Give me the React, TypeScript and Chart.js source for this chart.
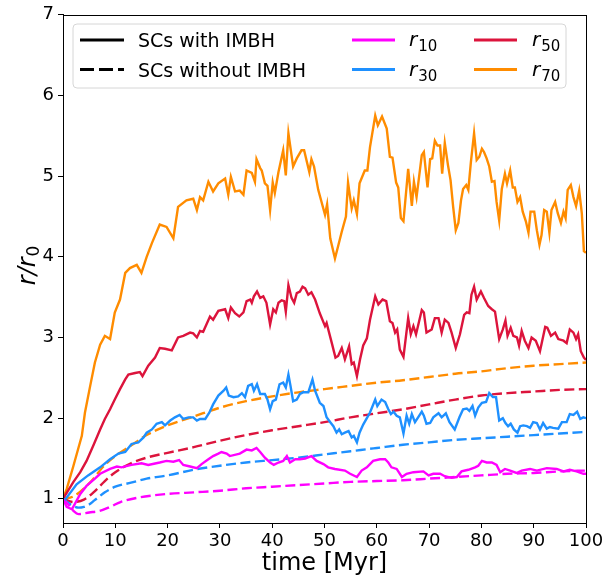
import React, { useEffect, useRef } from "react";
import { Chart, registerables } from "chart.js";

Chart.register(...registerables);

// ---- data (time in Myr, r/r0) ----
const xTicks = [0, 10, 20, 30, 40, 50, 60, 70, 80, 90, 100];
const yTicks = [1, 2, 3, 4, 5, 6, 7];

// with IMBH (solid)
const tR10 = [0, 0.7, 1.7, 2.3, 3.3, 4.5, 6.1, 7.1, 9.0, 10.3, 11.2, 13.1, 15.0, 16.3, 18.5, 19.8, 21.1, 22.2, 23.0, 24.3, 25.6, 26.5, 27.8, 28.7, 29.7, 30.3, 31.3, 31.9, 33.8, 35.1, 36.1, 37.0, 37.7, 38.6, 39.6, 40.3, 41.2, 42.1, 42.8, 43.4, 44.4, 45.3, 46.3, 47.5, 48.5, 49.8, 50.7, 52.0, 53.9, 54.9, 56.2, 57.1, 58.1, 59.3, 60.6, 61.6, 62.2, 62.8, 63.8, 64.8, 65.7, 67.0, 68.9, 69.9, 70.8, 72.1, 73.0, 74.3, 75.3, 76.2, 77.5, 78.8, 79.4, 80.1, 81.0, 82.0, 82.9, 83.6, 84.5, 85.5, 86.7, 87.7, 89.3, 90.6, 92.5, 94.4, 95.7, 96.9, 98.2, 99.5, 100];
const r10With = [1.0, 0.9, 0.87, 0.94, 1.06, 1.16, 1.25, 1.31, 1.37, 1.4, 1.39, 1.42, 1.44, 1.42, 1.45, 1.47, 1.46, 1.48, 1.42, 1.4, 1.38, 1.43, 1.49, 1.53, 1.56, 1.58, 1.56, 1.53, 1.56, 1.61, 1.6, 1.63, 1.58, 1.51, 1.45, 1.42, 1.45, 1.47, 1.53, 1.45, 1.49, 1.49, 1.5, 1.53, 1.47, 1.43, 1.39, 1.37, 1.35, 1.31, 1.27, 1.35, 1.39, 1.47, 1.49, 1.49, 1.45, 1.39, 1.37, 1.27, 1.31, 1.33, 1.34, 1.29, 1.31, 1.31, 1.28, 1.26, 1.27, 1.34, 1.36, 1.39, 1.41, 1.47, 1.45, 1.45, 1.42, 1.33, 1.37, 1.35, 1.32, 1.35, 1.37, 1.35, 1.38, 1.37, 1.34, 1.36, 1.34, 1.31, 1.31];

const tR30 = [0, 0.4, 2.6, 4.8, 7.1, 9.0, 10.6, 11.9, 13.1, 14.4, 15.4, 16.0, 17.0, 17.9, 18.9, 19.5, 20.5, 21.4, 22.3, 23.0, 24.0, 24.9, 25.6, 26.2, 27.2, 28.0, 28.7, 29.7, 30.7, 31.2, 31.7, 32.6, 33.5, 34.2, 34.8, 35.4, 36.1, 36.5, 37.1, 37.7, 38.6, 39.1, 39.6, 40.1, 40.7, 41.4, 42.1, 42.6, 43.1, 43.5, 44.0, 44.7, 45.3, 45.9, 46.9, 47.7, 48.2, 49.1, 49.8, 50.4, 51.1, 51.7, 52.3, 52.8, 53.3, 53.9, 54.6, 55.2, 55.6, 56.2, 56.7, 57.4, 58.1, 58.7, 59.7, 60.1, 60.9, 61.6, 62.2, 62.7, 63.2, 63.8, 64.4, 65.1, 65.7, 66.2, 66.7, 67.3, 67.9, 68.6, 69.0, 69.5, 70.2, 70.8, 71.8, 72.4, 73.2, 73.9, 74.9, 75.8, 76.5, 77.2, 77.7, 78.3, 78.8, 79.4, 80.1, 80.9, 81.5, 82.2, 82.8, 83.4, 84.1, 84.6, 85.1, 85.6, 86.2, 86.9, 87.4, 88.0, 88.7, 89.3, 89.9, 90.6, 91.2, 91.8, 92.5, 93.1, 93.7, 94.7, 95.4, 96.3, 96.9, 97.6, 98.3, 98.9, 99.5, 100];
const r30With = [1.0, 0.99, 1.18, 1.29, 1.39, 1.49, 1.56, 1.58, 1.68, 1.7, 1.76, 1.82, 1.86, 1.93, 1.95, 1.91, 1.97, 2.01, 2.04, 1.99, 2.01, 2.01, 1.97, 1.99, 1.99, 2.07, 2.17, 2.28, 2.34, 2.38, 2.28, 2.26, 2.27, 2.31, 2.26, 2.4, 2.42, 2.34, 2.42, 2.3, 2.3, 2.23, 2.11, 2.21, 2.23, 2.42, 2.44, 2.38, 2.54, 2.4, 2.21, 2.23, 2.3, 2.32, 2.32, 2.48, 2.34, 2.19, 2.15, 2.01, 1.95, 1.9, 1.82, 1.86, 1.8, 1.82, 1.84, 1.76, 1.78, 1.7, 1.82, 1.92, 2.0, 2.07, 2.23, 2.15, 2.23, 2.2, 2.11, 2.05, 2.08, 2.03, 2.01, 1.81, 2.03, 1.93, 2.05, 1.95, 2.01, 2.08, 2.03, 1.93, 1.94, 2.01, 2.06, 2.01, 2.06, 1.95, 1.86, 2.01, 2.11, 2.12, 2.09, 2.15, 2.03, 2.13, 2.19, 2.2, 2.31, 2.26, 2.26, 1.97, 2.0, 1.94, 1.9, 1.93, 1.86, 1.82, 1.9, 1.91, 1.9, 1.88, 1.95, 1.94, 1.86, 1.94, 1.87, 1.89, 1.88, 1.87, 1.95, 1.95, 2.05, 2.04, 2.08, 1.99, 2.01, 2.0];

const tR50 = [0, 2.0, 3.3, 4.5, 5.8, 7.1, 8.0, 9.0, 9.9, 10.9, 11.9, 12.5, 13.8, 14.7, 15.2, 16.3, 17.6, 18.5, 19.5, 20.8, 22.0, 23.0, 24.3, 24.9, 25.6, 26.2, 26.8, 28.1, 28.7, 29.7, 31.0, 31.6, 32.1, 32.9, 33.7, 34.5, 35.1, 35.8, 36.1, 36.5, 37.1, 37.7, 38.3, 38.9, 39.6, 40.2, 40.7, 41.2, 41.8, 42.3, 42.6, 43.1, 43.7, 44.2, 44.7, 45.3, 45.8, 46.3, 46.9, 47.5, 48.2, 49.1, 50.1, 50.4, 51.4, 52.1, 52.6, 53.3, 53.9, 54.7, 55.2, 55.6, 56.2, 56.8, 57.4, 58.1, 58.7, 59.7, 60.3, 61.1, 61.8, 62.5, 63.0, 63.5, 63.9, 64.4, 65.1, 66.0, 66.5, 67.0, 67.5, 68.6, 69.0, 69.5, 70.5, 71.1, 71.8, 72.4, 73.0, 73.7, 74.3, 75.1, 75.9, 76.7, 77.2, 77.7, 78.1, 78.6, 79.1, 79.9, 80.5, 81.3, 82.0, 82.6, 83.4, 84.1, 84.6, 85.0, 85.6, 86.1, 86.8, 87.2, 87.7, 88.3, 89.0, 89.6, 90.4, 91.2, 92.2, 92.6, 93.3, 94.1, 94.7, 95.7, 96.3, 96.9, 97.6, 98.1, 98.5, 99.0, 99.6, 100];
const r50With = [1.0, 1.21, 1.33, 1.47, 1.66, 1.86, 1.99, 2.11, 2.23, 2.36, 2.48, 2.54, 2.56, 2.57, 2.52, 2.65, 2.75, 2.87, 2.86, 2.84, 3.0, 3.02, 3.06, 3.05, 3.0, 3.08, 3.07, 3.26, 3.22, 3.33, 3.35, 3.24, 3.37, 3.3, 3.26, 3.31, 3.45, 3.47, 3.43, 3.51, 3.57, 3.49, 3.51, 3.43, 3.16, 3.35, 3.31, 3.43, 3.46, 3.45, 3.32, 3.65, 3.49, 3.43, 3.55, 3.57, 3.63, 3.61, 3.53, 3.56, 3.47, 3.3, 3.14, 3.18, 2.93, 2.75, 2.77, 2.87, 2.73, 2.89, 2.67, 2.69, 2.52, 2.73, 2.9, 2.99, 3.22, 3.51, 3.41, 3.47, 3.45, 3.2, 3.18, 3.06, 3.1, 2.85, 2.76, 3.24, 3.04, 3.14, 3.04, 3.34, 3.31, 3.06, 3.1, 3.24, 3.24, 3.06, 3.22, 3.18, 3.06, 2.87, 3.04, 3.28, 3.31, 3.3, 3.53, 3.63, 3.47, 3.57, 3.49, 3.39, 3.35, 3.32, 2.98, 3.1, 3.21, 3.02, 3.12, 3.02, 3.0, 2.9, 3.08, 2.96, 2.87, 3.0, 2.96, 2.83, 3.13, 3.12, 3.02, 3.06, 2.98, 2.96, 2.93, 3.1, 3.06, 2.98, 3.04, 2.83, 2.75, 2.72];

const tR70 = [0, 0.7, 2.0, 3.6, 4.2, 5.2, 6.1, 7.1, 8.0, 9.0, 9.9, 10.9, 11.9, 12.8, 14.1, 15.0, 16.0, 17.0, 18.5, 19.8, 21.1, 22.0, 23.6, 24.9, 25.6, 26.2, 26.8, 27.8, 28.7, 29.7, 31.0, 31.6, 32.1, 32.9, 33.8, 34.5, 35.1, 36.1, 36.7, 37.0, 37.7, 38.0, 38.6, 39.1, 39.6, 40.1, 40.5, 41.2, 42.1, 42.6, 43.1, 44.0, 44.7, 45.6, 46.1, 47.1, 47.5, 48.0, 48.8, 50.1, 50.5, 51.1, 52.0, 52.6, 53.3, 54.1, 54.5, 55.2, 55.6, 56.2, 56.7, 57.7, 58.2, 58.7, 59.7, 60.2, 61.0, 61.9, 62.5, 63.0, 63.7, 64.1, 64.6, 65.1, 66.0, 66.7, 67.1, 67.6, 68.6, 69.0, 69.7, 70.2, 70.6, 71.1, 71.6, 72.1, 72.5, 73.0, 73.6, 74.1, 74.6, 75.1, 75.6, 76.1, 76.5, 77.1, 77.5, 78.0, 78.6, 79.1, 79.6, 80.1, 80.5, 81.0, 81.5, 82.0, 82.5, 82.9, 83.4, 83.9, 84.5, 84.9, 85.5, 86.0, 86.4, 86.9, 87.4, 87.9, 88.5, 89.0, 89.4, 90.1, 90.6, 91.1, 91.5, 92.0, 92.5, 93.0, 93.4, 94.1, 94.6, 95.2, 95.7, 96.1, 96.5, 97.1, 97.6, 98.1, 98.7, 99.2, 99.6, 100];
const r70With = [1.0, 1.12, 1.41, 1.78, 2.07, 2.4, 2.69, 2.91, 3.02, 2.98, 3.31, 3.47, 3.8, 3.86, 3.9, 3.8, 4.0, 4.17, 4.4, 4.37, 4.23, 4.62, 4.7, 4.72, 4.58, 4.74, 4.7, 4.93, 4.81, 4.91, 4.97, 4.77, 4.99, 4.81, 4.82, 4.77, 5.07, 5.04, 4.93, 5.21, 5.1, 5.07, 4.91, 4.88, 4.58, 4.92, 4.79, 5.05, 5.32, 5.01, 5.53, 5.12, 5.22, 5.32, 5.32, 5.05, 5.21, 5.12, 4.83, 4.52, 4.65, 4.23, 3.98, 4.13, 4.31, 4.5, 4.92, 4.6, 4.7, 4.53, 4.91, 5.07, 5.07, 5.36, 5.75, 5.63, 5.74, 5.59, 5.24, 5.23, 4.92, 4.86, 4.48, 4.44, 5.09, 4.63, 4.93, 4.74, 5.26, 5.3, 4.86, 5.21, 5.22, 5.44, 5.38, 5.38, 5.03, 5.41, 5.14, 4.95, 4.62, 4.33, 4.42, 4.7, 4.84, 4.89, 4.83, 5.18, 5.53, 5.2, 5.24, 5.34, 5.3, 5.22, 5.12, 4.93, 4.94, 4.68, 4.45, 4.84, 5.03, 4.91, 5.07, 4.86, 4.86, 4.68, 4.74, 4.56, 4.44, 4.3, 4.56, 4.56, 4.33, 4.15, 4.27, 4.58, 4.56, 4.3, 4.58, 4.68, 4.54, 4.42, 4.56, 4.48, 4.83, 4.89, 4.74, 4.63, 4.82, 4.54, 4.07, 4.05];

// without IMBH (dashed)
const tR10No = [0, 1, 2, 3, 5, 7, 9, 11, 14, 17, 20, 25, 30, 35, 40, 45, 50, 55, 60, 65, 70, 75, 80, 85, 90, 95, 100];
const r10Without = [1.0, 0.93, 0.85, 0.81, 0.83, 0.85, 0.9, 0.96, 1.01, 1.04, 1.06, 1.08, 1.1, 1.13, 1.15, 1.17, 1.19, 1.21, 1.22, 1.23, 1.25, 1.27, 1.29, 1.31, 1.32, 1.34, 1.35];
const tR30No = [0, 1, 2, 3, 4, 5, 6, 8, 10, 13, 16, 20, 25, 30, 35, 40, 45, 50, 55, 60, 65, 70, 75, 80, 85, 90, 95, 100];
const r30Without = [1.0, 0.95, 0.91, 0.89, 0.9, 0.93, 0.98, 1.08, 1.15, 1.2, 1.25, 1.29, 1.36, 1.41, 1.45, 1.48, 1.51, 1.55, 1.59, 1.63, 1.67, 1.7, 1.73, 1.75, 1.77, 1.79, 1.81, 1.83];
const tR50No = [0, 2, 4, 6, 8, 10, 13, 16, 20, 25, 30, 35, 40, 45, 50, 55, 60, 65, 70, 75, 80, 85, 90, 95, 100];
const r50Without = [1.0, 0.96, 0.99, 1.09, 1.22, 1.33, 1.44, 1.51, 1.57, 1.64, 1.72, 1.79, 1.85, 1.9, 1.95, 2.01, 2.06, 2.11, 2.17, 2.23, 2.28, 2.31, 2.33, 2.35, 2.36];
const tR70No = [0, 2, 5, 8, 10, 13, 16, 20, 25, 30, 35, 40, 45, 50, 55, 60, 65, 70, 75, 80, 85, 90, 95, 100];
const r70Without = [1.0, 1.03, 1.19, 1.42, 1.53, 1.66, 1.79, 1.91, 2.02, 2.13, 2.21, 2.27, 2.32, 2.36, 2.4, 2.44, 2.47, 2.51, 2.55, 2.58, 2.62, 2.65, 2.67, 2.69];

const C10 = "#ff00ff";
const C30 = "#1e90ff";
const C50 = "#dc143c";
const C70 = "#ff8c00";
const FONT = "'DejaVu Sans', sans-serif";

const pts = (t: number[], v: number[]) => t.map((x, i) => ({ x, y: v[i] }));

const framePlugin = {
  id: "frameAndText",
  afterDatasetsDraw(chart: any) {
    const { ctx, chartArea: a } = chart;
    ctx.save();
    // frame
    ctx.strokeStyle = "#000";
    ctx.lineWidth = 1;
    ctx.strokeRect(Math.round(a.left) + 0.5, Math.round(a.top) + 0.5, Math.round(a.right - a.left), Math.round(a.bottom - a.top));

    // legend box
    const bx = 73, by = 24, bw = 493, bh = 64, r = 4;
    ctx.beginPath();
    ctx.moveTo(bx + r, by);
    ctx.lineTo(bx + bw - r, by);
    ctx.quadraticCurveTo(bx + bw, by, bx + bw, by + r);
    ctx.lineTo(bx + bw, by + bh - r);
    ctx.quadraticCurveTo(bx + bw, by + bh, bx + bw - r, by + bh);
    ctx.lineTo(bx + r, by + bh);
    ctx.quadraticCurveTo(bx, by + bh, bx, by + bh - r);
    ctx.lineTo(bx, by + r);
    ctx.quadraticCurveTo(bx, by, bx + r, by);
    ctx.closePath();
    ctx.fillStyle = "rgba(255,255,255,0.8)";
    ctx.fill();
    ctx.strokeStyle = "#d6d6d6";
    ctx.stroke();

    const row1 = 40, row2 = 69.5;
    const line = (x1: number, x2: number, y: number, color: string, dash: number[]) => {
      ctx.beginPath();
      ctx.setLineDash(dash);
      ctx.strokeStyle = color;
      ctx.lineWidth = 3;
      ctx.moveTo(x1, y);
      ctx.lineTo(x2, y);
      ctx.stroke();
      ctx.setLineDash([]);
    };
    line(80, 124, row1, "#000", []);
    line(80, 124, row2, "#000", [14, 5]);
    ctx.fillStyle = "#000";
    ctx.textBaseline = "alphabetic";
    ctx.textAlign = "left";
    ctx.font = `19px ${FONT}`;
    ctx.fillText("SCs with IMBH", 138, row1 + 7);
    ctx.fillText("SCs without IMBH", 138, row2 + 7);

    const rlabel = (x: number, y: number, sub: string) => {
      ctx.font = `italic 20px ${FONT}`;
      ctx.fillText("r", x, y + 6);
      const w = ctx.measureText("r").width;
      ctx.font = `15px ${FONT}`;
      ctx.fillText(sub, x + w + 1, y + 11);
    };
    line(352, 395, row1, C10, []);
    line(352, 395, row2, C30, []);
    line(474, 517, row1, C50, []);
    line(474, 517, row2, C70, []);
    rlabel(409, row1, "10");
    rlabel(409, row2, "30");
    rlabel(532, row1, "50");
    rlabel(532, row2, "70");

    // x title
    ctx.font = `24px ${FONT}`;
    ctx.textAlign = "center";
    ctx.fillText("time [Myr]", (a.left + a.right) / 2, 570);

    // y title r/r0
    ctx.translate(35, (a.top + a.bottom) / 2 - 3);
    ctx.rotate(-Math.PI / 2);
    ctx.textAlign = "left";
    ctx.font = `italic 24px ${FONT}`;
    const main = "r/r";
    const w1 = ctx.measureText(main).width;
    ctx.font = `17px ${FONT}`;
    const w2 = ctx.measureText("0").width;
    const start = -(w1 + w2) / 2;
    ctx.font = `italic 24px ${FONT}`;
    ctx.fillText(main, start, 0);
    ctx.font = `17px ${FONT}`;
    ctx.fillText("0", start + w1 + 1, 4);
    ctx.restore();
  },
};

export default function App() {
  const ref = useRef<HTMLCanvasElement | null>(null);
  useEffect(() => {
    if (!ref.current) return;
    const solid = (label: string, t: number[], v: number[], c: string) => ({
      label, data: pts(t, v), borderColor: c, backgroundColor: c, borderWidth: 2.4,
      pointRadius: 0, tension: 0, fill: false,
    });
    const dashed = (label: string, t: number[], v: number[], c: string) => ({
      label, data: pts(t, v), borderColor: c, backgroundColor: c, borderWidth: 2.4,
      borderDash: [10, 4.5], pointRadius: 0, tension: 0.4, cubicInterpolationMode: "monotone", fill: false,
    });
    const chart = new Chart(ref.current, {
      type: "line",
      data: {
        datasets: [
          solid("r10 with IMBH", tR10, r10With, C10),
          solid("r30 with IMBH", tR30, r30With, C30),
          solid("r50 with IMBH", tR50, r50With, C50),
          solid("r70 with IMBH", tR70, r70With, C70),
          dashed("r10 without IMBH", tR10No, r10Without, C10),
          dashed("r30 without IMBH", tR30No, r30Without, C30),
          dashed("r50 without IMBH", tR50No, r50Without, C50),
          dashed("r70 without IMBH", tR70No, r70Without, C70),
        ] as any,
      },
      options: {
        animation: false,
        responsive: false,
        maintainAspectRatio: false,
        layout: { padding: { left: 0, right: 30, top: 14, bottom: 0 } },
        plugins: { legend: { display: false }, tooltip: { enabled: false } },
        scales: {
          x: {
            type: "linear",
            min: 0,
            max: 100,
            afterBuildTicks: (s: any) => { s.ticks = xTicks.map((v) => ({ value: v })); },
            afterFit: (s: any) => { s.height = 56; },
            ticks: { font: { family: FONT, size: 18 }, color: "#000", padding: 3, maxRotation: 0, autoSkip: false },
            grid: { drawOnChartArea: false, drawTicks: true, tickLength: 5, tickColor: "#000", tickWidth: 1 },
            border: { display: true, color: "#000", width: 1 },
          },
          y: {
            type: "linear",
            min: 0.7,
            max: 7,
            afterBuildTicks: (s: any) => { s.ticks = yTicks.map((v) => ({ value: v })); },
            afterFit: (s: any) => { s.width = 63; },
            ticks: { font: { family: FONT, size: 18 }, color: "#000", padding: 4, autoSkip: false },
            grid: { drawOnChartArea: false, drawTicks: true, tickLength: 5, tickColor: "#000", tickWidth: 1 },
            border: { display: true, color: "#000", width: 1 },
          },
        },
      },
      plugins: [framePlugin],
    });
    return () => chart.destroy();
  }, []);
  return (
    <div style={{ position: "fixed", left: 0, top: 0, width: 616, height: 579, background: "#fff" }}>
      <canvas ref={ref} width={616} height={579} style={{ width: 616, height: 579 }} />
    </div>
  );
}
